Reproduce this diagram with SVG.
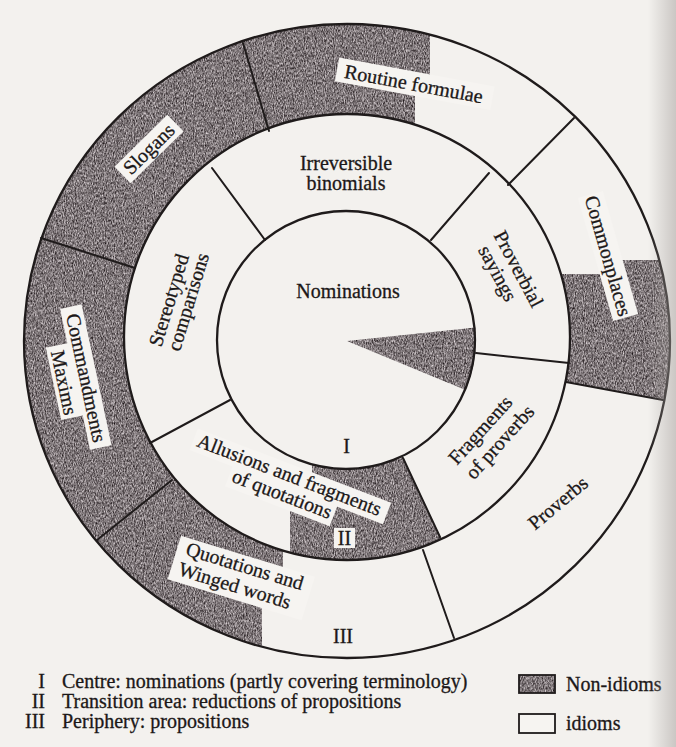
<svg xmlns="http://www.w3.org/2000/svg" width="676" height="747" viewBox="0 0 676 747">
  <defs>
    <style>
      .t { font-family: "Liberation Serif", "Times New Roman", serif; font-size: 20px; fill: #1c1818; stroke: #1c1818; stroke-width: 0.3px; }
      .m { text-anchor: middle; }
      .e { text-anchor: end; }
      .ln { stroke: #1f1b1b; stroke-width: 2; fill: none; stroke-linecap: round; }
      .ring { stroke: #1f1b1b; stroke-width: 2.3; fill: none; }
      .box { fill: #f6f4f1; }
      .key { stroke: #1f1b1b; stroke-width: 1.8; }
    </style>
    <!-- speckled halftone used for the non-idiom areas -->
    <filter id="grain" color-interpolation-filters="sRGB">
      <feTurbulence type="fractalNoise" baseFrequency="1.1 0.4" numOctaves="3" seed="5" result="noise"/>
      <feColorMatrix in="noise" type="matrix" values="0.95 0 0 0 0.02  0.95 0 0 0 -0.01  0.95 0 0 0 0.0  0 0 0 0 1" result="tone"/>
      <feComposite in="tone" in2="SourceGraphic" operator="in"/>
    </filter>
    <clipPath id="outerRing">
      <path clip-rule="evenodd" d="M24,341 a323,317 0 1,0 646,0 a323,317 0 1,0 -646,0 Z M124,337 a223,223 0 1,0 446,0 a223,223 0 1,0 -446,0 Z"/>
    </clipPath>
    <clipPath id="midRing">
      <path clip-rule="evenodd" d="M124,337 a223,223 0 1,0 446,0 a223,223 0 1,0 -446,0 Z M217,340 a129,129 0 1,0 258,0 a129,129 0 1,0 -258,0 Z"/>
    </clipPath>
    <linearGradient id="edge" x1="0" y1="0" x2="1" y2="0">
      <stop offset="0" stop-color="#a9a4a1" stop-opacity="0"/>
      <stop offset="1" stop-color="#a9a4a1" stop-opacity="0.55"/>
    </linearGradient>
  </defs>

  <rect width="676" height="747" fill="#f3f1ee"/>

  <!-- non-idiom (shaded) areas -->
  <g id="shading" filter="url(#grain)">
    <g clip-path="url(#outerRing)">
      <polygon points="0,0 430,0 430,82 415,82 415,200 347,340 283,520 283,590 262,590 262,700 0,700"/>
      <polygon points="540,274 610,274 610,260 690,260 690,404 550,379"/>
    </g>
    <g clip-path="url(#midRing)">
      <polygon points="312,440 395,440 452,562 290,562 290,505 312,505"/>
    </g>
    <path d="M347,341 L475.5,327.5 A129,129 0 0,1 465.5,390 Z"/>
    <rect x="519" y="675" width="36" height="18"/>
  </g>

  <!-- ring outlines -->
  <g id="rings">
    <ellipse class="ring" cx="347" cy="341" rx="323" ry="317"/>
    <circle class="ring" cx="347" cy="337" r="223"/>
    <circle class="ring" cx="346" cy="340" r="129"/>
  </g>

  <!-- sector dividers -->
  <g id="dividers">
    <line class="ln" x1="243" y1="43" x2="269" y2="131"/>
    <line class="ln" x1="41" y1="238" x2="135" y2="268"/>
    <line class="ln" x1="97" y1="540" x2="172" y2="480"/>
    <line class="ln" x1="423" y1="550" x2="454" y2="638"/>
    <line class="ln" x1="566" y1="382" x2="663" y2="400"/>
    <line class="ln" x1="508" y1="185" x2="574" y2="118"/>
    <line class="ln" x1="212" y1="168" x2="265" y2="240"/>
    <line class="ln" x1="431" y1="240" x2="489" y2="173"/>
    <line class="ln" x1="476" y1="353" x2="569" y2="363"/>
    <line class="ln" x1="403" y1="458" x2="440" y2="537"/>
    <line class="ln" x1="150" y1="443" x2="230" y2="400"/>
  </g>

  <!-- periphery -->
  <g id="routine-formulae" transform="translate(412.5,90.5) rotate(10.5)">
    <rect class="box" x="-78" y="-19" width="158" height="24"/>
    <text class="t m" x="0" y="0">Routine formulae</text>
  </g>
  <g id="slogans" transform="translate(149,149) rotate(-44.5)">
    <rect class="box" x="-37" y="-11.5" width="74" height="23"/>
    <text class="t m" x="0" y="6.5">Slogans</text>
  </g>
  <g id="commandments-maxims" transform="translate(86,378) rotate(78)">
    <rect class="box" x="-73" y="-11" width="144" height="22"/>
    <rect class="box" x="-38" y="10" width="74" height="23"/>
    <text class="t m" x="0" y="6.5">Commandments</text>
    <text class="t m" x="0" y="29">Maxims</text>
  </g>
  <g id="quotations" transform="translate(243,572.5) rotate(17)">
    <rect class="box" x="-70" y="-17" width="140" height="45.5"/>
    <text class="t m" x="0" y="0">Quotations and</text>
    <text class="t m" x="-4" y="21.5">Winged words</text>
  </g>
  <g id="commonplaces" transform="translate(608,256) rotate(74)">
    <rect class="box" x="-64" y="-13" width="128" height="26"/>
    <text class="t m" x="0" y="6.5">Commonplaces</text>
  </g>
  <g id="proverbs" transform="translate(558,503) rotate(-40)">
    <text class="t m" x="0" y="6.5">Proverbs</text>
  </g>
  <g id="periphery-mark">
    <text class="t m" x="343" y="643">III</text>
  </g>

  <!-- transition area -->
  <g id="irreversible-binomials">
    <text class="t m" x="346" y="170">Irreversible</text>
    <text class="t m" x="346" y="190">binomials</text>
  </g>
  <g id="proverbial-sayings" transform="translate(518.5,269) rotate(62)">
    <text class="t m" x="0" y="6.5">Proverbial</text>
    <text class="t m" x="-6" y="27">sayings</text>
  </g>
  <g id="fragments-of-proverbs" transform="translate(480.5,430) rotate(-48)">
    <text class="t m" x="0" y="6.5">Fragments</text>
    <text class="t m" x="4" y="29">of proverbs</text>
  </g>
  <g id="allusions" transform="translate(287,481) rotate(21)">
    <rect class="box" x="-102" y="-17" width="207" height="23"/>
    <rect class="box" x="-56" y="4" width="112" height="23"/>
    <text class="t m" x="0" y="0">Allusions and fragments</text>
    <text class="t m" x="0" y="20.5">of quotations</text>
  </g>
  <g id="stereotyped-comparisons" transform="translate(178,303) rotate(-73)">
    <text class="t m" x="0" y="-3">Stereotyped</text>
    <text class="t m" x="4" y="16">comparisons</text>
  </g>
  <g id="transition-mark">
    <rect class="box" x="334" y="528" width="21" height="20"/>
    <text class="t m" x="344.5" y="545">II</text>
  </g>

  <!-- centre -->
  <g id="nominations">
    <text class="t m" x="348" y="298">Nominations</text>
  </g>
  <g id="centre-mark">
    <text class="t m" x="346.5" y="453">I</text>
  </g>

  <!-- legend -->
  <g id="legend-zones">
    <text class="t e" x="45" y="688">I</text>
    <text class="t" x="62" y="688">Centre: nominations (partly covering terminology)</text>
    <text class="t e" x="45" y="708">II</text>
    <text class="t" x="62" y="708">Transition area: reductions of propositions</text>
    <text class="t e" x="45" y="728">III</text>
    <text class="t" x="62" y="728">Periphery: propositions</text>
  </g>
  <g id="legend-non-idioms">
    <rect class="key" x="519" y="675" width="36" height="18" fill="none"/>
    <text class="t" x="566" y="691">Non-idioms</text>
  </g>
  <g id="legend-idioms">
    <rect class="key" x="519" y="714" width="36" height="19" fill="#f6f4f1"/>
    <text class="t" x="566" y="730">idioms</text>
  </g>

  <!-- page edge towards the binding -->
  <rect x="648" y="0" width="28" height="747" fill="url(#edge)"/>
</svg>
